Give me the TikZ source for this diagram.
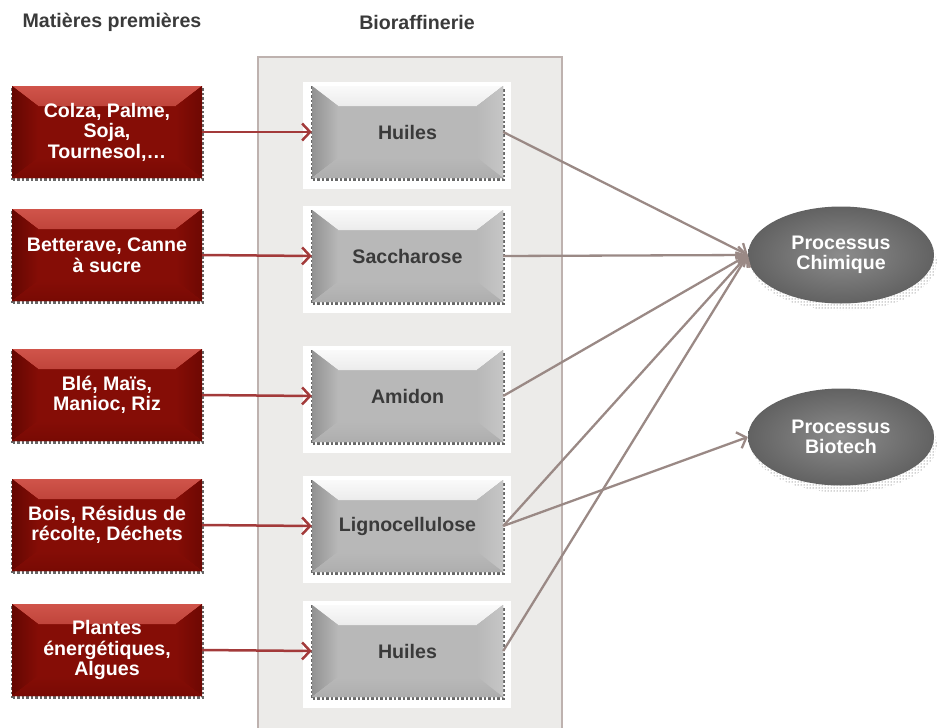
\documentclass[tikz,border=0pt]{standalone}
\usepackage{fontspec}
\setmainfont{Liberation Sans}
\usetikzlibrary{arrows.meta,shapes.geometric,backgrounds,patterns}
\definecolor{redmain}{HTML}{850D06}
\definecolor{redtop}{HTML}{D0544A}
\definecolor{redleft}{HTML}{640702}
\definecolor{redright}{HTML}{6E0803}
\definecolor{redbot}{HTML}{780A04}
\definecolor{graymain}{HTML}{B8B8B8}
\definecolor{graytop}{HTML}{FAFAFA}
\definecolor{grayleft}{HTML}{929292}
\definecolor{grayright}{HTML}{C6C6C6}
\definecolor{graybot}{HTML}{AEAEAE}
\definecolor{ellin}{HTML}{8C8C8C}
\definecolor{ellout}{HTML}{626262}
\definecolor{panelfill}{HTML}{ECEBE9}
\definecolor{panelborder}{HTML}{BEB2AF}
\definecolor{redarrowc}{HTML}{A33A3A}
\definecolor{grayarrowc}{HTML}{9A8985}
\definecolor{darktext}{HTML}{3A3A3A}
\newcommand\mybevel[5]{%
  \fill[top color=#2, bottom color=#1]
    (path picture bounding box.north west) -- (path picture bounding box.north east)
    -- ([xshift=-26pt,yshift=-20pt]path picture bounding box.north east)
    -- ([xshift=26pt,yshift=-20pt]path picture bounding box.north west) -- cycle;
  \fill[left color=#3, right color=#1]
    (path picture bounding box.north west)
    -- ([xshift=26pt,yshift=-20pt]path picture bounding box.north west)
    -- ([xshift=26pt,yshift=20pt]path picture bounding box.south west)
    -- (path picture bounding box.south west) -- cycle;
  \fill[left color=#1, right color=#4]
    (path picture bounding box.north east)
    -- ([xshift=-26pt,yshift=-20pt]path picture bounding box.north east)
    -- ([xshift=-26pt,yshift=20pt]path picture bounding box.south east)
    -- (path picture bounding box.south east) -- cycle;
  \fill[top color=#1, bottom color=#5]
    (path picture bounding box.south west)
    -- ([xshift=26pt,yshift=20pt]path picture bounding box.south west)
    -- ([xshift=-26pt,yshift=20pt]path picture bounding box.south east)
    -- (path picture bounding box.south east) -- cycle;
}
\begin{document}
\begin{tikzpicture}[x=1pt,y=-1pt,
  boxfont/.style={font=\fontsize{19.6}{20.5}\selectfont\bfseries},
  shadowdots/.style={preaction={draw=black!60, dotted, line width=2.5pt,
      transform canvas={shift={(0.5pt,-1.5pt)}}}},
  redbox/.style={rectangle, boxfont, shadowdots, minimum width=190pt, minimum height=92pt,
      inner sep=0pt, align=center, fill=redmain, text=white,
      path picture={\mybevel{redmain}{redtop}{redleft}{redright}{redbot}}},
  graybox/.style={rectangle, boxfont, shadowdots, minimum width=191pt, minimum height=92pt,
      inner sep=0pt, align=center, fill=graymain, text=darktext,
      path picture={\mybevel{graymain}{graytop}{grayleft}{grayright}{graybot}}},
  procbox/.style={ellipse, boxfont, minimum width=186pt, minimum height=97pt,
      inner sep=0pt, align=center, text=white, inner color=ellin, outer color=ellout,
      preaction={pattern=dots, pattern color=black!75,
      transform canvas={shift={(3pt,-7pt)}}}},
  header/.style={boxfont, text=darktext},
  redarrow/.style={draw=redarrowc, line width=2.5pt,
      -{Straight Barb[length=8pt,width=17pt]}},
  grayarrow/.style={draw=grayarrowc, line width=2.3pt,
      -{Straight Barb[length=8pt,width=17pt]}}
]
\useasboundingbox (0,0) rectangle (937,728);

\node[header] (h1) at (112,22) {Matières premières};
\node[header] (h2) at (417,22) {Bioraffinerie};

\node[redbox] (r1) at (107,132) {Colza, Palme,\\Soja,\\Tournesol,…};
\node[redbox] (r2) at (107,255) {Betterave, Canne\\à sucre};
\node[redbox] (r3) at (107,395) {Blé, Maïs,\\Manioc, Riz};
\node[redbox] (r4) at (107,525) {Bois, Résidus de\\récolte, Déchets};
\node[redbox] (r5) at (107,650) {Plantes\\énergétiques,\\Algues};

\node[graybox] (g1) at (407.5,132) {Huiles};
\node[graybox] (g2) at (407.5,256) {Saccharose};
\node[graybox] (g3) at (407.5,396) {Amidon};
\node[graybox] (g4) at (407.5,526) {Lignocellulose};
\node[graybox] (g5) at (407.5,651) {Huiles};

\node[procbox] (chem) at (841,255) {Processus\\Chimique};
\node[procbox] (bio) at (841,437) {Processus\\Biotech};

\begin{scope}[on background layer]
  \fill[panelfill] (258,57) rectangle (562,730);
  \draw[panelborder, line width=2.5pt] (258,730) -- (258,57) -- (562,57) -- (562,730);
  \foreach \g in {g1,g2,g3,g4,g5}{
    \fill[white] ([xshift=-9pt,yshift=4pt]\g.north west) rectangle ([xshift=8pt,yshift=-11pt]\g.south east);
  }
\end{scope}

\foreach \i in {1,...,5}{
  \draw[redarrow] (r\i.east) -- (g\i.west);
}
\draw[grayarrow] (g1.east) -- (chem.west);
\draw[grayarrow] (g2.east) -- (chem.west);
\draw[grayarrow] (g3.east) -- (chem.west);
\draw[grayarrow] (g4.east) -- (chem.west);
\draw[grayarrow] (g5.east) -- (chem.west);
\draw[grayarrow] (g4.east) -- (bio.west);
\end{tikzpicture}
\end{document}
